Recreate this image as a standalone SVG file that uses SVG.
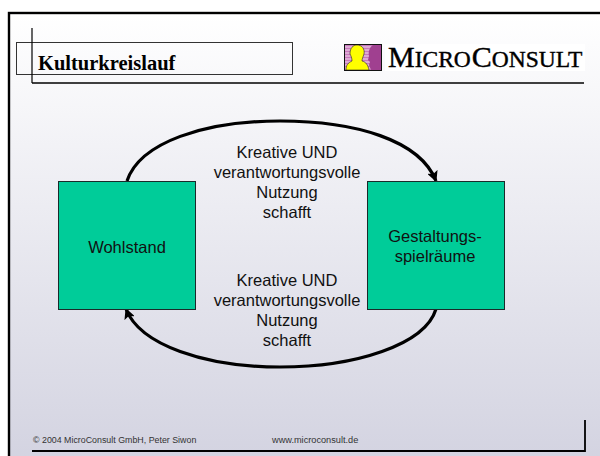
<svg xmlns="http://www.w3.org/2000/svg" width="600" height="456" viewBox="0 0 600 456">
<style>
.sans{font-family:"Liberation Sans",Arial,sans-serif;fill:#111}
.lbl{font-size:16.500px;text-anchor:middle}
.foot{font-size:9.200px;fill:#333}
.box{fill:#00cc99;stroke:#1a2a2a;stroke-width:1}
.rule{stroke:#000;fill:none}
.arc{fill:none;stroke:#000;stroke-width:3.2}
</style>
<defs>
<linearGradient id="bg" x1="0" y1="0" x2="0" y2="1"><stop offset="0" stop-color="#ffffff"/><stop offset="1" stop-color="#d2d2e0"/></linearGradient>
<marker id="ah" viewBox="0 0 10 10" refX="9" refY="5" markerWidth="3.4" markerHeight="3.4" orient="auto"><path d="M0 0L10 5L0 10L2 5Z" fill="#000"/></marker>
</defs>
<rect width="600" height="456" fill="#fff"/>
<rect x="9" y="13" width="600" height="460" fill="url(#bg)" stroke="#000" stroke-width="2.4"/>
<g id="header">
<rect x="16.500" y="42.500" width="276" height="32" fill="none" stroke="#333" stroke-width="1"/>
<path class="rule" stroke-width="1.200" d="M32 28V83"/>
<path class="rule" stroke-width="1.600" d="M32 83H584"/>
<text x="38" y="70" font-family="'Liberation Serif',serif" font-size="20.500" font-weight="bold" fill="#000">Kulturkreislauf</text>
</g>
<g id="logo">
<rect x="344.500" y="44.500" width="37" height="26" fill="#c878bc" stroke="#111" stroke-width="1"/>
<path d="M345 47h36M345 50h36M345 53h36M345 56h36M345 59h36M345 62h36M345 65h36M345 68h36" stroke="#f0dcec" stroke-width="1.200"/>
<path d="M381 45h-8c-3 2-5 6-4 11l-1 4 2 2-1 3 2 5h10Z" fill="#a04090"/>
<path d="M346 70c0-5 2-7 6-9 0-3-1-5-2-7 0-6 3-9 7-9 5 0 8 4 7 9-1 3-2 5-2 7 4 1 6 4 7 9Z" fill="#ffff00" stroke="#222" stroke-width=".6"/>
<rect x="344.500" y="44.500" width="37" height="26" fill="none" stroke="#111" stroke-width="1"/>
<rect x="385" y="44" width="200" height="27" fill="#fff"/>
<text x="388" y="67" font-family="'Liberation Serif',serif" font-size="30" fill="#000" stroke="#000" stroke-width=".4">M<tspan font-size="23.500">ICRO</tspan><tspan dx="1">C</tspan><tspan font-size="23.500">ONSULT</tspan></text>
</g>
<g id="connectors">
<path class="arc" marker-end="url(#ah)" d="M127 181C140 142 205 121 280 121C355 121 420 140 436 181"/>
<path class="arc" marker-end="url(#ah)" d="M436 309C425 345 355 367 280 367C205 367 140 345 126 309"/>
</g>
<g id="wohlstand">
<rect class="box" x="58.500" y="181.500" width="137" height="128"/>
<text class="sans lbl" x="127" y="253">Wohlstand</text>
</g>
<g id="gestaltung">
<rect class="box" x="367.500" y="181.500" width="137" height="128"/>
<text class="sans lbl" x="435" y="242">Gestaltungs-</text>
<text class="sans lbl" x="435" y="262">spielräume</text>
</g>
<g id="label-top">
<text class="sans lbl" x="287" y="158">Kreative UND</text>
<text class="sans lbl" x="287" y="178">verantwortungsvolle</text>
<text class="sans lbl" x="287" y="198">Nutzung</text>
<text class="sans lbl" x="287" y="218">schafft</text>
</g>
<g id="label-bottom">
<text class="sans lbl" x="287" y="286">Kreative UND</text>
<text class="sans lbl" x="287" y="306">verantwortungsvolle</text>
<text class="sans lbl" x="287" y="326">Nutzung</text>
<text class="sans lbl" x="287" y="346">schafft</text>
</g>
<g id="footer">
<path class="rule" stroke-width="1.800" d="M32 451H585V420"/>
<text class="sans foot" x="33" y="443" style="font-size:8.850px">© 2004 MicroConsult GmbH, Peter Siwon</text>
<text class="sans foot" x="272" y="443">www.microconsult.de</text>
</g>
</svg>
